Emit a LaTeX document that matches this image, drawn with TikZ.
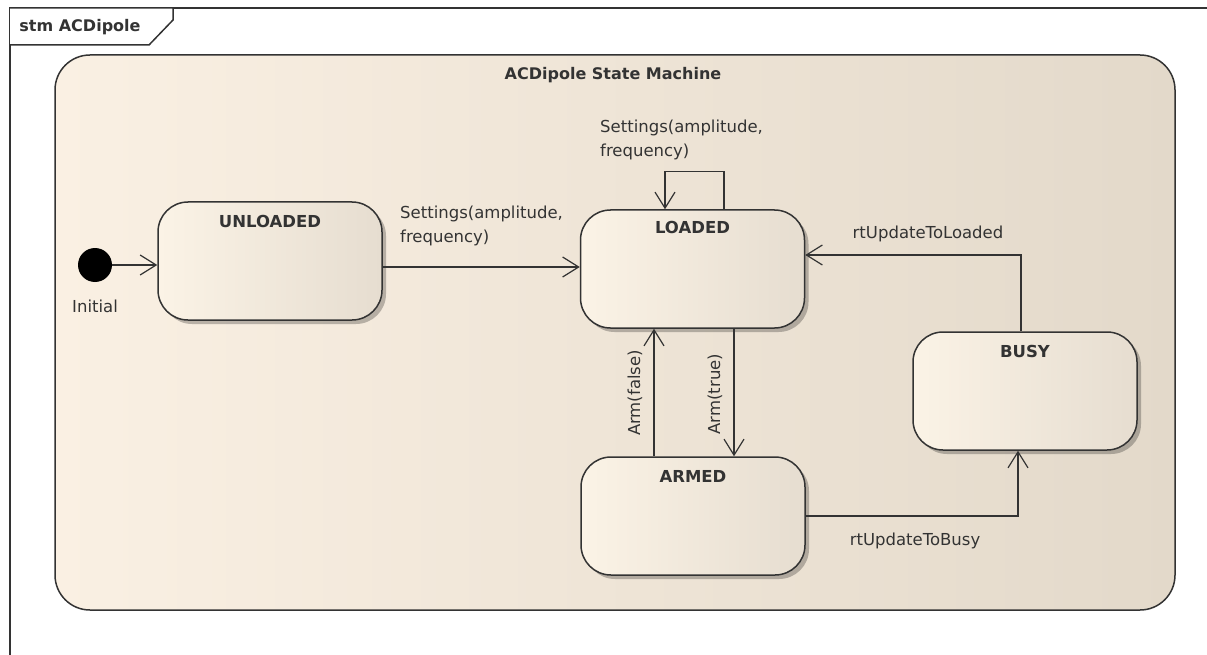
\documentclass[tikz,border=0pt]{standalone}
\usepackage{fontspec}
\setmainfont{DejaVu Sans}
\usetikzlibrary{arrows.meta,shadows,calc}
\definecolor{stateL}{HTML}{FBF3E6}
\definecolor{stateR}{HTML}{E6DDD0}
\definecolor{smL}{HTML}{FAF0E3}
\definecolor{smR}{HTML}{E3D9CA}
\definecolor{ink}{HTML}{333333}
\begin{document}
\begin{tikzpicture}[x=1pt,y=-1pt,
  lbl/.style={font=\fontsize{16.5}{24}\selectfont, text=ink, inner sep=0pt},
  sname/.style={font=\fontsize{16.5}{20}\selectfont\bfseries, text=ink, inner sep=0pt},
  statebox/.style={draw=ink, line width=1.5pt, rounded corners=30pt,
    left color=stateL, right color=stateR, minimum width=224pt, minimum height=118pt, inner sep=0pt,
    drop shadow={shadow xshift=4pt, shadow yshift=-4pt, opacity=0.25, fill=black}},
  trans/.style={draw=ink, line width=1.3pt,
    -{Straight Barb[length=16pt, width=20pt, line width=1.2pt]}}
]
\useasboundingbox (0,0) rectangle (1207,655);
% frame
\draw[ink, line width=1.5pt] (10,655) -- (10,8) -- (1207,8);
\draw[ink, line width=1.5pt, fill=white] (10,8) -- (173,8) -- (173,20) -- (149,45) -- (10,45);
\node[font=\fontsize{16}{20}\selectfont\bfseries, text=ink, inner sep=0pt] (stm) at (80,27) {stm ACDipole};
% state machine region
\node[draw=ink, line width=1.5pt, rounded corners=35pt, left color=smL, right color=smR,
  minimum width=1120pt, minimum height=555pt, inner sep=0pt] (sm) at (615,332.5) {};
\node[sname, font=\fontsize{16}{20}\selectfont\bfseries] (title) at (613,75) {ACDipole State Machine};
% states
\node[statebox] (unloaded) at (270,261) {};
\node[statebox] (loaded) at (692.5,269) {};
\node[statebox] (armed) at (693,516) {};
\node[statebox] (busy) at (1025,391) {};
\node[sname] (unloadedT) at ($(unloaded.north)+(0,20)$) {UNLOADED};
\node[sname] (loadedT) at ($(loaded.north)+(0,18)$) {LOADED};
\node[sname] (armedT) at ($(armed.north)+(0,20)$) {ARMED};
\node[sname] (busyT) at ($(busy.north)+(0,20)$) {BUSY};
% initial
\node[circle, fill=black, minimum size=34pt, inner sep=0pt] (init) at (95,265) {};
\node[lbl] (initT) at (95,306) {Initial};
% transitions
\draw[trans] (init.east) -- (unloaded.west |- init.east);
\draw[trans] (unloaded.east |- 0,267) -- (loaded.west |- 0,267);
\node[lbl, align=left, anchor=north west] (l1) at (400,206) {Settings(amplitude,\\frequency)};
\draw[trans] ($(loaded.north)+(31.5,0)$) -- ++(0,-38) -| ($(loaded.north)+(-27.5,0)$);
\node[lbl, align=left, anchor=north west] (l2) at (600,120) {Settings(amplitude,\\frequency)};
\draw[trans] ($(loaded.south)+(41.5,0)$) -- ($(armed.north)+(41,0)$);
\node[lbl, rotate=90] (l3) at (715,394) {Arm(true)};
\draw[trans] ($(armed.north)+(-39,0)$) -- ($(loaded.south)+(-38.5,0)$);
\node[lbl, rotate=90] (l4) at (635,393) {Arm(false)};
\draw[trans] (armed.east) -| ($(busy.south)+(-7,0)$);
\node[lbl] (l5) at (915,541) {rtUpdateToBusy};
\draw[trans] ($(busy.north)+(-4,0)$) |- ($(loaded.east)+(0,-14)$);
\node[lbl] (l6) at (928,234) {rtUpdateToLoaded};
\end{tikzpicture}
\end{document}
